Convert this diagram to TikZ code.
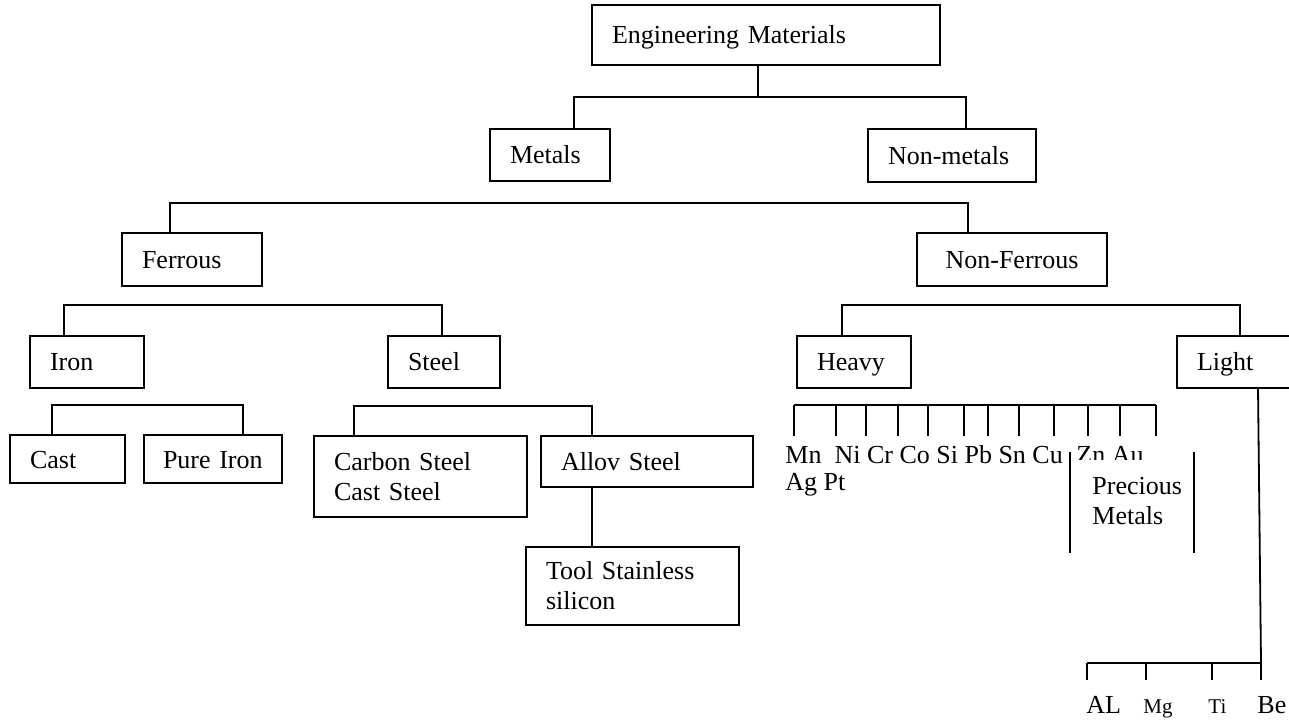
\documentclass[tikz,border=0pt]{standalone}
\usepackage{fontspec}
\setmainfont{Liberation Serif}
\usepackage{tikz}
\usetikzlibrary{positioning}

\begin{document}
\begin{tikzpicture}[x=0.5pt,y=-0.5pt,font=\fontsize{13}{15}\selectfont]
\tikzstyle{box}=[rectangle, draw=black, line width=0.9pt, anchor=north west, align=left, inner xsep=10pt, inner ysep=0pt, outer sep=0pt]
\tikzstyle{one}=[box, text height=11pt, text depth=2pt]
\tikzstyle{wire}=[line width=0.9pt]
\tikzstyle{lbl}=[inner sep=0pt, anchor=base west]
\tikzstyle{small}=[font=\fontsize{10.5}{12}\selectfont]
\useasboundingbox (0,0) rectangle (1289,721);

	\node[one, text width=154pt, minimum height=30pt] (eng) at (592,5) {Engineering Materials};
	\node[one, text width=40pt, minimum height=26pt] (met) at (490,129) {Metals};
	\node[one, text width=64pt, minimum height=26.5pt] (nonmet) at (868,129) {Non-metals};
	\node[one, text width=50pt, minimum height=26.5pt] (fer) at (122,233) {Ferrous};
	\node[one, text width=75pt, minimum height=26.5pt, align=center] (nonfer) at (917,233) {Non-Ferrous};
	\node[one, text width=37pt, minimum height=26pt] (iron) at (30,336) {Iron};
	\node[one, text width=36pt, minimum height=26pt] (steel) at (388,336) {Steel};
	\node[one, text width=37pt, minimum height=26pt] (heavy) at (797,336) {Heavy};
	\node[one, text width=50pt, minimum height=26pt] (light) at (1177,336) {Light};
	\node[one, text width=37.5pt, minimum height=24pt] (cast) at (10,435) {Cast};
	\node[one, text width=50pt, inner xsep=9.5pt, minimum height=24pt] (pure) at (144,435) {Pure~Iron};
	\node[box, text width=86.5pt, minimum height=40.5pt] (carbon) at (314,436) {Carbon Steel\\Cast Steel};
	\node[one, text width=86pt, minimum height=25.5pt] (allov) at (541,436) {Allov Steel};
	\node[box, text width=86.5pt, minimum height=39pt] (tool) at (526,547) {Tool Stainless\\silicon};

	\coordinate (b1l) at (574,97);  \coordinate (b1r) at (966,97);
	\coordinate (b2l) at (170,203); \coordinate (b2r) at (968,203);
	\coordinate (b3l) at (64,305);  \coordinate (b3r) at (442,305);
	\coordinate (b4l) at (842,305); \coordinate (b4r) at (1240,305);
	\coordinate (b5l) at (52,405);  \coordinate (b5r) at (243,405);
	\coordinate (b6l) at (354,406); \coordinate (b6r) at (592,406);
	\coordinate (lc) at (1261,663);

	\draw[wire] ([xshift=-4pt]eng.south) -- ([xshift=-4pt]eng.south |- b1l);
	\draw[wire] (met.north -| b1l) -- (b1l) -- (b1r) -- (nonmet.north -| b1r);
	\draw[wire] (fer.north -| b2l) -- (b2l) -- (b2r) -- (nonfer.north -| b2r);
	\draw[wire] (iron.north -| b3l) -- (b3l) -- (b3r) -- (steel.north -| b3r);
	\draw[wire] (heavy.north -| b4l) -- (b4l) -- (b4r) -- (light.north -| b4r);
	\draw[wire] (cast.north -| b5l) -- (b5l) -- (b5r) -- (pure.north -| b5r);
	\draw[wire] (carbon.north -| b6l) -- (b6l) -- (b6r) -- (allov.north -| b6r);
	\draw[wire] (allov.south -| b6r) -- (tool.north -| b6r);

	% heavy metals
	\draw[wire] (794,405) -- (1156,405);
	\foreach \x in {794,836,866,898,928,964,988,1019,1054,1088,1120,1156}
		\draw[wire] (\x,405) -- (\x,436);
	\node[lbl] (hvA) at (785,463) {Mn\ \ Ni Cr Co Si Pb Sn Cu};
	\node[lbl] (hvB) at (785,490) {Ag Pt};
	\begin{scope}
		\clip (1072,440) rectangle (1160,459);
		\node[lbl] (hvC) at (1076,463) {Zn Au};
	\end{scope}
	\draw[wire] (1070,452) -- (1070,553);
	\draw[wire] (1194,452) -- (1194,553);
	\node[anchor=north west, inner sep=0pt, align=left] (prec) at (1092,477) {Precious\\Metals};

	% light metals
	\draw[wire] ([xshift=5.5pt]light.south) -- (lc);
	\draw[wire] (1087,663) -- (lc);
	\foreach \x in {1087,1146,1212,1261}
		\draw[wire] (\x,663) -- (\x,680);
	\node[lbl] (al) at (1086,713) {AL};
	\node[lbl, small] (mg) at (1143,713) {Mg};
	\node[lbl, small] (ti) at (1208,713) {Ti};
	\node[lbl] (be) at (1257,713) {Be};

\end{tikzpicture}
\end{document}
